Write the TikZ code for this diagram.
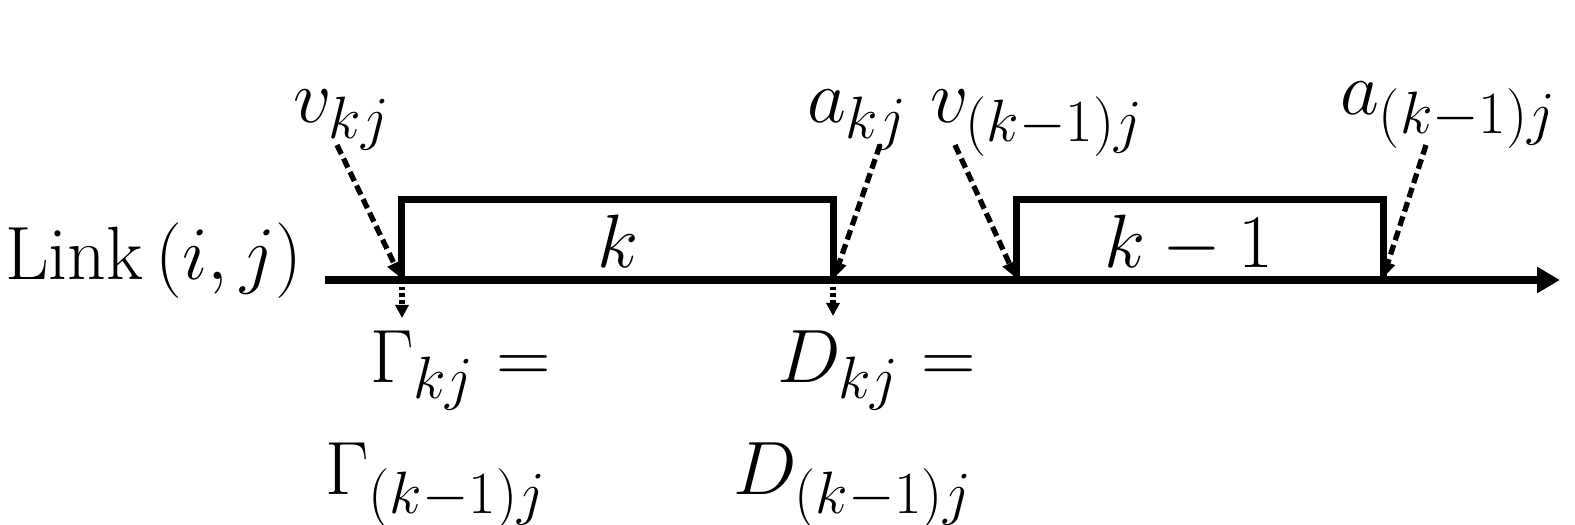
\documentclass[tikz,border=0pt]{standalone}
\usepackage{fix-cm}
\DeclareMathSizes{21.5}{21.5}{17}{13}
\usetikzlibrary{arrows.meta}
\begin{document}
\begin{tikzpicture}[x=0.01cm,y=-0.01cm,
  big/.style={font=\fontsize{21.5}{26}\selectfont, inner sep=0pt, outer sep=0pt},
  slotbox/.style={draw, line width=2pt, inner sep=0pt, minimum height=0.80cm},
  axisline/.style={line width=2.1pt, -{Triangle[length=0.23cm,width=0.25cm]}},
  evtarrow/.style={line width=1.5pt, dash pattern=on 0.1cm off 0.05cm, -{Triangle[length=0.16cm,width=0.14cm]}},
  droparrow/.style={line width=1.5pt, dash pattern=on 0.035cm off 0.03cm, -{Triangle[length=0.13cm,width=0.13cm]}}
]
\useasboundingbox (0,0) rectangle (1575,525);

% axis
\coordinate (axs) at (325,280);
\coordinate (axe) at (1560,280);

% boxes
\node[slotbox, minimum width=4.31cm] (boxk) at (617.5,240) {};
\node[slotbox, minimum width=3.66cm] (boxkm) at (1200,240) {};
\draw[axisline] (axs) -- (axe);

% box labels
\node[big, anchor=base] (lk) at (618,268) {$k$};
\node[big, anchor=base] (lkm) at (1189,268) {$k-1$};

% left label
\node[big, anchor=base west] (link) at (5,280) {Link\,$(i,j)$};

% top labels
\node[big, anchor=base west] (vk) at (293,123) {$v_{kj}$};
\node[big, anchor=base west] (ak) at (807,123) {$a_{kj}$};
\node[big, anchor=base west] (vkm) at (930,123) {$v_{(k-1)j}$};
\node[big, anchor=base west] (akm) at (1340,115) {$a_{(k-1)j}$};

% bottom labels
\node[big, anchor=base west] (g1) at (370,383) {$\Gamma_{kj} =$};
\node[big, anchor=base west] (g2) at (325,495) {$\Gamma_{(k-1)j}$};
\node[big, anchor=base west] (d1) at (777,383) {$D_{kj} =$};
\node[big, anchor=base west] (d2) at (733,495) {$D_{(k-1)j}$};

% arrow start points
\coordinate (svk) at (337,145);
\coordinate (sak) at (880,145);
\coordinate (svkm) at (955,145);
\coordinate (sakm) at (1426,145);
\coordinate (tvk) at (401,278);
\coordinate (tak) at (834,278);
\coordinate (tvkm) at (1016,278);
\coordinate (takm) at (1383,278);

\draw[evtarrow] (svk) -- (tvk);
\draw[evtarrow] (sak) -- (tak);
\draw[evtarrow] (svkm) -- (tvkm);
\draw[evtarrow] (sakm) -- (takm);

% drop arrows
\coordinate (dg) at (402,318);
\coordinate (dd) at (833,316);
\draw[droparrow] (402,287) -- (dg);
\draw[droparrow] (833,287) -- (dd);
\end{tikzpicture}
\end{document}
